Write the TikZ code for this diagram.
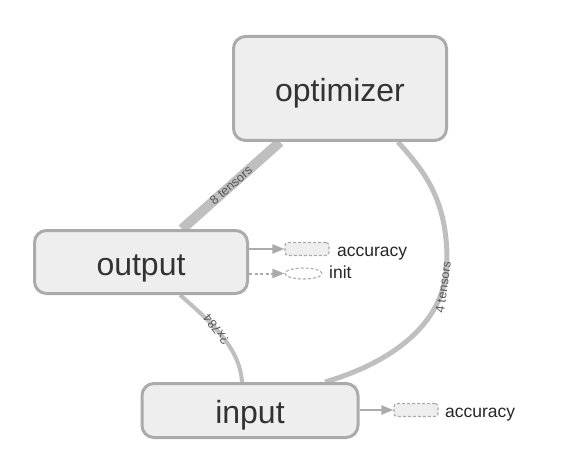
\documentclass[tikz,border=0pt]{standalone}
\usepackage{fontspec}
\setmainfont{Liberation Sans}
\usetikzlibrary{arrows.meta,backgrounds,shapes.geometric}
\definecolor{boxfill}{HTML}{EEEEEE}
\definecolor{boxline}{HTML}{ABABAB}
\definecolor{edgecol}{HTML}{BFBFBF}
\definecolor{labcol}{HTML}{333333}
\definecolor{edgelab}{HTML}{555555}
\tikzset{
  bignode/.style={draw=boxline, fill=boxfill, line width=3pt, rounded corners=12pt,
    text=labcol, font=\fontsize{32}{36}\selectfont, inner sep=0pt,
    text height=26pt, text depth=0pt},
  smallrect/.style={draw=boxline, fill=boxfill, line width=1.1pt, dash pattern=on 3pt off 2pt,
    rounded corners=3pt, minimum width=44pt, minimum height=13pt, inner sep=0pt},
  smallell/.style={ellipse, draw=boxline, line width=1.1pt, dash pattern=on 3pt off 2pt,
    minimum width=37pt, minimum height=11pt, inner sep=0pt},
  smalllab/.style={anchor=base west, text=black!85, font=\fontsize{17.5}{20}\selectfont, inner sep=0pt},
  edgetext/.style={text=edgelab, font=\fontsize{12.5}{14}\selectfont, inner sep=0pt},
  dataedge/.style={draw=edgecol, line cap=butt},
  ctrledge/.style={draw=boxline, line width=2pt, -{Triangle[length=12pt,width=9pt]}},
}
\begin{document}
\begin{tikzpicture}[x=1pt,y=-1pt]
\useasboundingbox (0,0) rectangle (574,460);
% main nodes
\node[bignode, minimum width=213pt, minimum height=104pt] (opt) at (340,88.5) {optimizer};
\node[bignode, minimum width=213pt, minimum height=63pt] (out) at (141,262) {output};
\node[bignode, minimum width=216pt, minimum height=54pt] (in) at (250,410.5) {input};
% auxiliary nodes
\node[smallrect] (acc1) at (307,249) {};
\node[smalllab] (acc1l) at (337,256) {accuracy};
\node[smallell] (init) at (303.5,273.5) {};
\node[smalllab] (initl) at (329,278.5) {init};
\node[smallrect] (acc2) at (416,410) {};
\node[smalllab] (acc2l) at (445,417) {accuracy};
% edges
\begin{pgfonlayer}{background}
\draw[dataedge, line width=10pt] ([xshift=-60pt]opt.south) -- ([xshift=41pt]out.north)
  node[edgetext, pos=0.5, rotate=41] {8 tensors};
\draw[dataedge, line width=5pt] ([xshift=58pt]opt.south)
  .. controls (425,172) and (447,200) .. (447,260)
  .. controls (447,330) and (380,366) .. ([xshift=75pt]in.north)
  node[edgetext, pos=0.14, rotate=82] {4 tensors};
\draw[dataedge, line width=4pt] ([xshift=39pt]out.south)
  .. controls (215,325) and (240,350) .. ([xshift=-8pt]in.north)
  node[edgetext, pos=0.4, rotate=128] {?x784};
\end{pgfonlayer}
\draw[ctrledge] (out.east |- acc1.west) -- (acc1.west);
\draw[ctrledge, dash pattern=on 3pt off 2.5pt] (out.east |- init.west) -- (init.west);
\draw[ctrledge] (in.east |- acc2.west) -- (acc2.west);
\end{tikzpicture}
\end{document}
